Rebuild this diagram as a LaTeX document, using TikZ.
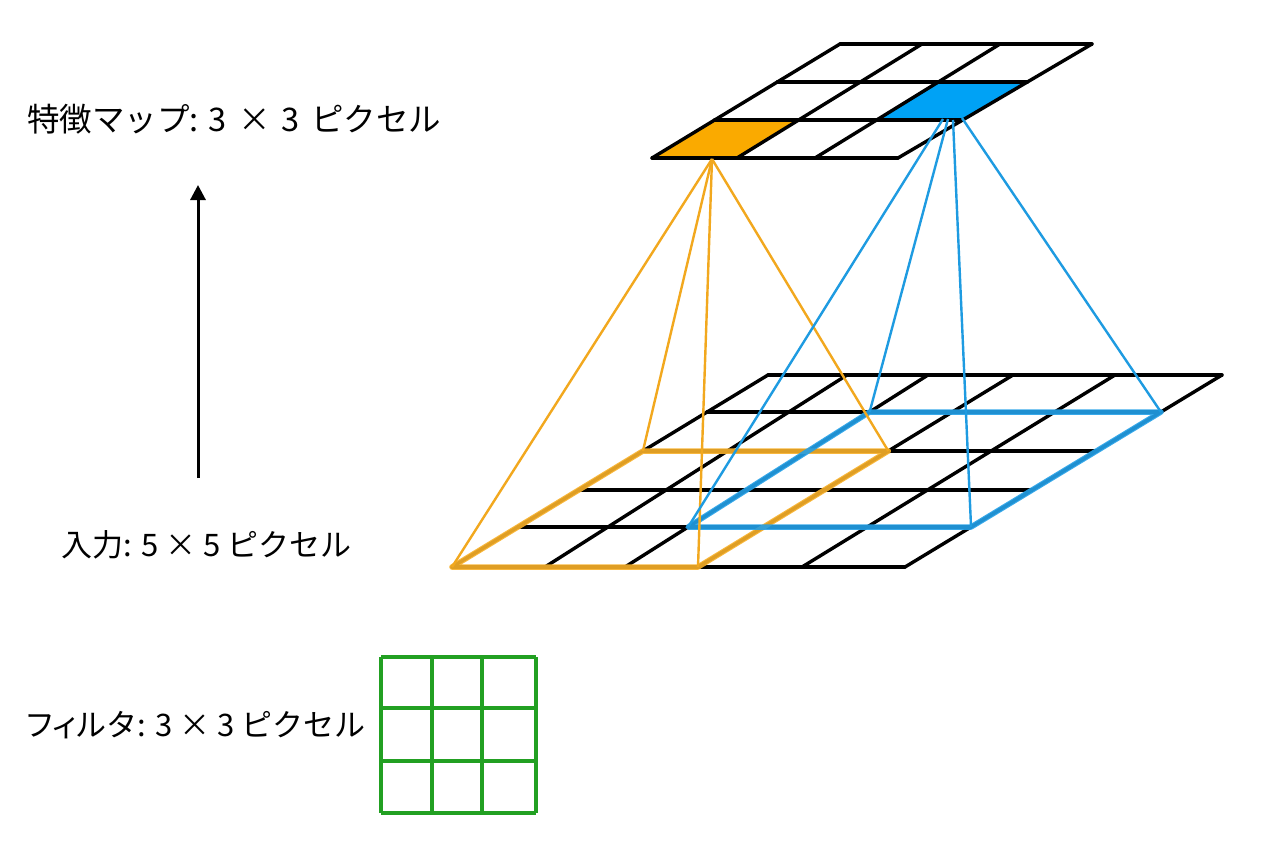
\documentclass[tikz,border=0pt]{standalone}
\usepackage{fontspec}
\newfontfamily\jp{Noto Sans CJK JP}
\usetikzlibrary{arrows.meta}
\definecolor{orA}{RGB}{250,170,0}
\definecolor{blA}{RGB}{0,162,245}
\definecolor{orL}{RGB}{242,168,30}
\definecolor{blL}{RGB}{30,155,225}
\definecolor{orH}{RGB}{248,176,40}
\definecolor{blH}{RGB}{35,160,232}
\definecolor{grF}{RGB}{34,160,34}
\tikzset{
  gridline/.style={line width=3.4pt, black, line cap=round},
  hlor/.style={line width=5.5pt, orH, opacity=0.9, line join=round, line cap=round},
  hlbl/.style={line width=5.5pt, blH, opacity=0.9, line join=round, line cap=round},
  conor/.style={line width=2.4pt, orL},
  conbl/.style={line width=2.4pt, blL},
  filt/.style={line width=3.4pt, grF},
  lbl/.style={anchor=west, inner sep=0pt},
}
\begin{document}
\begin{tikzpicture}[x=1pt,y=-1pt]
\fill[white] (0,0) rectangle (1264,848);
\useasboundingbox (0,0) rectangle (1264,848);
% ---------- bottom grid 5x5 coordinates
\def\xf{{452,545,625,698,802,905}}
\def\xb{{768,847,928,1013,1115,1222}}
\def\yr{{567,527,490,451,412,375}}
\foreach \i in {0,...,5}{
  \foreach \j in {0,...,5}{
    \pgfmathsetmacro\tt{(567-\yr[\j])/192}
    \pgfmathsetmacro\xx{\xf[\i]+\tt*(\xb[\i]-\xf[\i])}
    \pgfmathsetmacro\yy{\yr[\j]}
    \coordinate (b-\i-\j) at (\xx,\yy);
  }
}
% ---------- top grid 3x3 coordinates
\def\txf{{652,737,815,898}}
\def\txb{{840,922,1000,1092}}
\def\tyr{{158,120,82,44}}
\foreach \i in {0,...,3}{
  \foreach \j in {0,...,3}{
    \pgfmathsetmacro\tt{(158-\tyr[\j])/114}
    \pgfmathsetmacro\xx{\txf[\i]+\tt*(\txb[\i]-\txf[\i])}
    \pgfmathsetmacro\yy{\tyr[\j]}
    \coordinate (t-\i-\j) at (\xx,\yy);
  }
}
% ---------- top grid
\fill[orA] (t-0-0) -- (t-1-0) -- (t-1-1) -- (t-0-1) -- cycle;
\fill[blA] (t-2-1) -- (t-3-1) -- (t-3-2) -- (t-2-2) -- cycle;
\foreach \k in {0,...,3}{
  \draw[gridline] (t-0-\k) -- (t-3-\k);
  \draw[gridline] (t-\k-0) -- (t-\k-3);
}
% ---------- bottom grid
\foreach \k in {0,...,5}{
  \draw[gridline] (b-0-\k) -- (b-5-\k);
  \draw[gridline] (b-\k-0) -- (b-\k-5);
}
% ---------- highlighted filter positions
\draw[hlor] (b-0-0) -- (b-3-0) -- (b-3-3) -- (b-0-3) -- cycle;
\draw[hlbl] (b-2-1) -- (b-5-1) -- (b-5-4) -- (b-2-4) -- cycle;
% ---------- connectors
\coordinate (oa) at (712,159);
\coordinate (ba1) at (943,119);
\coordinate (ba2) at (948,119);
\coordinate (ba3) at (953,120);
\coordinate (ba4) at (962,118);
\draw[conor] (oa) -- (b-0-0);
\draw[conor] (oa) -- (b-3-0);
\draw[conor] (oa) -- (b-0-3);
\draw[conor] (oa) -- (b-3-3);
\draw[conbl] (ba1) -- (b-2-1);
\draw[conbl] (ba2) -- (b-2-4);
\draw[conbl] (ba3) -- (b-5-1);
\draw[conbl] (ba4) -- (b-5-4);
% ---------- filter 3x3
\foreach \x in {381,432,482,536}{
  \draw[filt] (\x,657) -- (\x,813);
}
\foreach \y in {657,708,761,813}{
  \draw[filt] (381,\y) -- (536,\y);
}
% ---------- arrow
\coordinate (arB) at (198,478);
\coordinate (arT) at (198,185);
\draw[line width=3pt, -{Triangle[length=15pt,width=15pt]}] (arB) -- (arT);
% ---------- labels
\node[lbl, font=\jp\fontsize{32.5}{38}\selectfont] (lt) at (27,119) {特徴マップ:\kern10pt 3\kern4pt{} × \kern4pt3\kern4pt{} ピクセル};
\node[lbl, font=\jp\fontsize{31}{36}\selectfont] (li) at (61,545) {入力: 5 × 5 ピクセル};
\node[lbl, font=\jp\fontsize{31}{36}\selectfont] (lf) at (24,725) {フ\kern-5pt ィ\kern-6pt ルタ: 3 × 3 ピクセル};
\end{tikzpicture}
\end{document}
